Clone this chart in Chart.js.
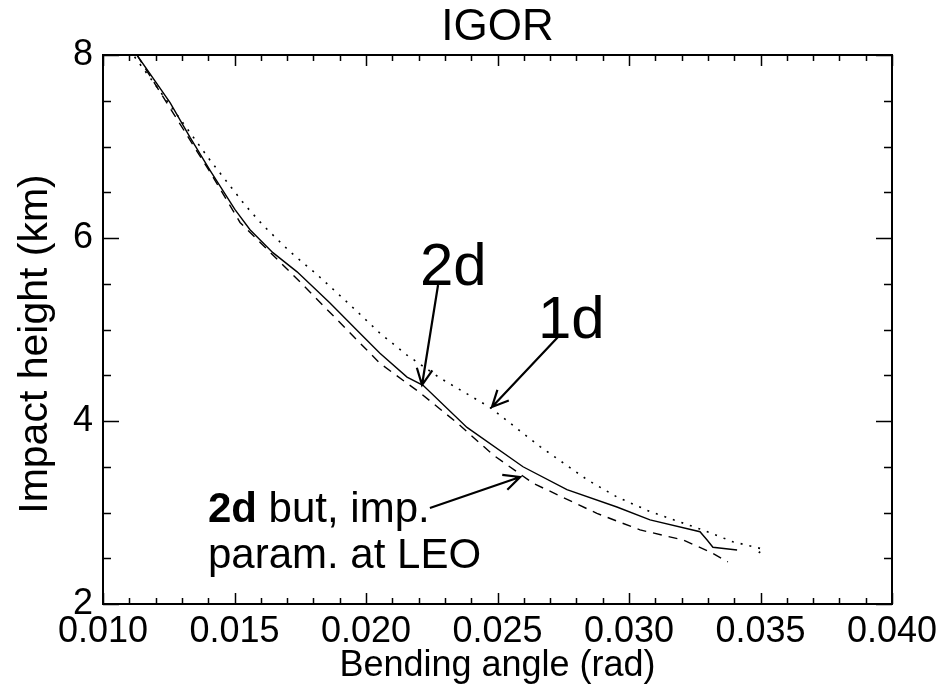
<!DOCTYPE html>
<html>
<head>
<meta charset="utf-8">
<title>IGOR</title>
<script src="https://cdn.jsdelivr.net/npm/chart.js@4/dist/chart.umd.min.js"></script>
<style>
  html, body { margin: 0; padding: 0; background: #fff; }
  canvas { display: block; }
</style>
</head>
<body>
<canvas id="bendChart" width="952" height="691"></canvas>
<script>
// bending angle (rad) vs impact height (km)
const solidAngle = [0.01129, 0.01255, 0.01331, 0.01407, 0.01502, 0.01559, 0.01646, 0.01738, 0.01863, 0.01977, 0.02053,
    0.02156, 0.02217, 0.02384, 0.02597, 0.02764, 0.02954, 0.03080, 0.03270, 0.03297, 0.03319, 0.03411];
const solidHeight = [8.00, 7.48, 7.10, 6.74, 6.31, 6.09, 5.84, 5.63, 5.29, 4.96, 4.74,
    4.48, 4.39, 3.93, 3.50, 3.25, 3.06, 2.92, 2.79, 2.70, 2.62, 2.59];

const dotAngle = [0.01120, 0.01205, 0.01407, 0.01540, 0.01608, 0.01711, 0.01814, 0.01928, 0.02053, 0.02156,
    0.02281, 0.02471, 0.02662, 0.02840, 0.02954, 0.03080, 0.03270, 0.03395, 0.03510, 0.03490];
const dotHeight = [7.98, 7.65, 6.85, 6.36, 6.14, 5.85, 5.60, 5.30, 4.96, 4.72,
    4.47, 4.15, 3.72, 3.36, 3.17, 3.01, 2.82, 2.68, 2.60, 2.55];

const dashAngle = [0.01129, 0.01407, 0.01521, 0.01749, 0.02053, 0.02205, 0.02346, 0.02483, 0.02635, 0.02878,
    0.03042, 0.03205, 0.03308, 0.03376];
const dashHeight = [8.00, 6.72, 6.17, 5.52, 4.63, 4.31, 3.98, 3.63, 3.32, 2.99,
    2.81, 2.70, 2.57, 2.46];

const xTickLabels = ["0.010", "0.015", "0.020", "0.025", "0.030", "0.035", "0.040"];
const yTickLabels = ["2", "4", "6", "8"];

const FONT = "'Liberation Sans', Arial, Helvetica, sans-serif";

function pairs(xs, ys) {
    return xs.map(function (x, i) { return { x: x, y: ys[i] }; });
}

function labelFor(list, value) {
    const hit = list.find(function (l) { return Math.abs(parseFloat(l) - value) < 1e-9; });
    return hit === undefined ? "" : hit;
}

// IDL style box with inward ticks on all sides, plus the text notes
const boxPlugin = {
    id: "boxPlugin",
    afterDraw: function (chart) {
        const ctx = chart.ctx;
        const area = chart.chartArea;
        const xs = chart.scales.x;
        const ys = chart.scales.y;
        ctx.save();
        ctx.strokeStyle = "#000";
        ctx.lineWidth = 2;
        ctx.strokeRect(area.left, area.top, area.right - area.left, area.bottom - area.top);

        ctx.lineWidth = 1.5;
        ctx.beginPath();
        xs.ticks.forEach(function (t) {
            const px = Math.round(xs.getPixelForValue(t.value)) + 0.5;
            const len = labelFor(xTickLabels, t.value) ? 11 : 6;
            ctx.moveTo(px, area.bottom); ctx.lineTo(px, area.bottom - len);
            ctx.moveTo(px, area.top); ctx.lineTo(px, area.top + len);
        });
        ys.ticks.forEach(function (t) {
            const py = Math.round(ys.getPixelForValue(t.value)) + 0.5;
            const len = labelFor(yTickLabels, t.value) ? 16 : 8;
            ctx.moveTo(area.left, py); ctx.lineTo(area.left + len, py);
            ctx.moveTo(area.right, py); ctx.lineTo(area.right - len, py);
        });
        ctx.stroke();

        ctx.fillStyle = "#000";

        // y axis title
        ctx.save();
        ctx.translate(36, 344);
        ctx.rotate(-Math.PI / 2);
        ctx.textAlign = "center";
        ctx.textBaseline = "middle";
        ctx.font = "41px " + FONT;
        ctx.fillText("Impact height (km)", 0, 0);
        ctx.restore();

        // notes
        ctx.textBaseline = "alphabetic";
        ctx.textAlign = "left";
        ctx.font = "60px " + FONT;
        ctx.fillText("2d", xs.getPixelForValue(0.02205), ys.getPixelForValue(5.486));
        ctx.fillText("1d", xs.getPixelForValue(0.02654), ys.getPixelForValue(4.907));

        const lx = xs.getPixelForValue(0.01399);
        ctx.font = "bold 42px " + FONT;
        ctx.fillText("2d", lx, ys.getPixelForValue(2.896));
        const w = ctx.measureText("2d").width;
        ctx.font = "42px " + FONT;
        ctx.fillText(" but, imp.", lx + w, ys.getPixelForValue(2.896));
        ctx.fillText("param. at LEO", lx, ys.getPixelForValue(2.393));

        const arrows = [
            [0.02274, 5.486, 0.02213, 4.393],
            [0.02730, 4.918, 0.02479, 4.153],
            [0.02243, 3.049, 0.02586, 3.388]
        ];
        ctx.lineWidth = 2.2;
        arrows.forEach(function (a) {
            const x0 = xs.getPixelForValue(a[0]), y0 = ys.getPixelForValue(a[1]);
            const x1 = xs.getPixelForValue(a[2]), y1 = ys.getPixelForValue(a[3]);
            const ang = Math.atan2(y1 - y0, x1 - x0);
            const h = 18, spread = 0.45;
            ctx.beginPath();
            ctx.moveTo(x0, y0); ctx.lineTo(x1, y1);
            ctx.moveTo(x1 - h * Math.cos(ang - spread), y1 - h * Math.sin(ang - spread));
            ctx.lineTo(x1, y1);
            ctx.lineTo(x1 - h * Math.cos(ang + spread), y1 - h * Math.sin(ang + spread));
            ctx.stroke();
        });
        ctx.restore();
    }
};

Chart.defaults.font.family = FONT;
Chart.defaults.color = "#000";

new Chart(document.getElementById("bendChart"), {
    type: "line",
    data: {
        datasets: [
            {
                label: "2d",
                data: pairs(solidAngle, solidHeight),
                borderColor: "#000",
                borderWidth: 1.4,
                pointRadius: 0,
                tension: 0,
            },
            {
                label: "1d",
                data: pairs(dotAngle, dotHeight),
                borderColor: "#000",
                borderWidth: 1.6,
                borderDash: [2, 7],
                pointRadius: 0,
                tension: 0,
            },
            {
                label: "2d, imp. param. at LEO",
                data: pairs(dashAngle, dashHeight),
                borderColor: "#000",
                borderWidth: 1.4,
                borderDash: [9, 7],
                pointRadius: 0,
                tension: 0,
            },
        ],
    },
    options: {
        responsive: false,
        animation: false,
        layout: {
            padding: { left: 0, right: 60, top: 0, bottom: 0 },
        },
        plugins: {
            legend: { display: false },
            tooltip: { enabled: false },
            title: {
                display: true,
                fullSize: false,
                text: "IGOR",
                font: { size: 44, weight: "normal", lineHeight: 1 },
                padding: { top: 6, bottom: 5 },
            },
        },
        scales: {
            x: {
                type: "linear",
                min: 0.010,
                max: 0.040,
                grid: { display: false, drawTicks: false },
                border: { display: false },
                ticks: {
                    stepSize: 0.001,
                    autoSkip: false,
                    maxRotation: 0,
                    minRotation: 0,
                    padding: 6,
                    font: { size: 36 },
                    callback: function (v) { return labelFor(xTickLabels, v); },
                },
                title: {
                    display: true,
                    text: "Bending angle (rad)",
                    font: { size: 36 },
                    padding: { top: 0, bottom: 3 },
                },
                afterFit: function (scale) { scale.height = 87; },
            },
            y: {
                type: "linear",
                min: 2,
                max: 8,
                grid: { display: false, drawTicks: false },
                border: { display: false },
                ticks: {
                    stepSize: 0.5,
                    autoSkip: false,
                    padding: 10,
                    font: { size: 36 },
                    callback: function (v) { return labelFor(yTickLabels, v); },
                },
                afterFit: function (scale) { scale.width = 103; },
            },
        },
    },
    plugins: [boxPlugin],
});
</script>
</body>
</html>
